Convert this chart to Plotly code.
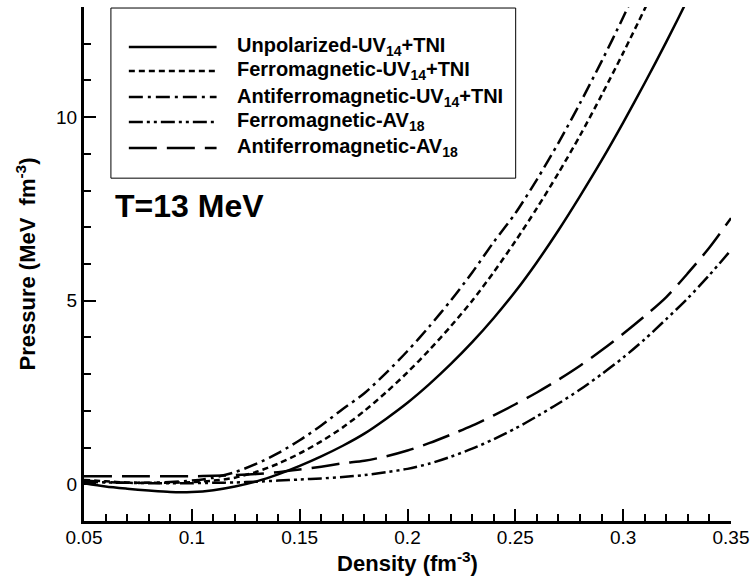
import plotly.graph_objects as go

density = [0.05, 0.06, 0.07, 0.08, 0.09, 0.10, 0.11, 0.12, 0.13, 0.14,
           0.15, 0.16, 0.17, 0.18, 0.19, 0.20, 0.21, 0.22, 0.23, 0.24,
           0.25, 0.26, 0.27, 0.28, 0.29, 0.30, 0.31, 0.32, 0.33, 0.34, 0.35]

unpol_uv14 = [0.03, -0.06, -0.12, -0.17, -0.21, -0.21, -0.16, -0.06, 0.08, 0.27,
              0.50, 0.76, 1.05, 1.38, 1.78, 2.22, 2.72, 3.27, 3.87, 4.53,
              5.25, 6.05, 6.92, 7.85, 8.82, 9.85, 10.93, 12.05, 13.22, 14.45]

ferro_uv14 = [0.12, 0.08, 0.05, 0.04, 0.04, 0.06, 0.10, 0.18, 0.34, 0.56,
              0.84, 1.17, 1.55, 2.00, 2.50, 3.05, 3.65, 4.30, 5.00, 5.78,
              6.62, 7.52, 8.48, 9.50, 10.60, 11.75, 12.95, 14.20]

antiferro_uv14 = [0.10, 0.06, 0.04, 0.04, 0.06, 0.10, 0.18, 0.33, 0.56, 0.85,
                  1.20, 1.60, 2.05, 2.48, 3.03, 3.63, 4.29, 5.00, 5.77, 6.60,
                  7.38, 8.30, 9.30, 10.38, 11.52, 12.72, 14.00]

ferro_av18 = [0.07, 0.05, 0.04, 0.03, 0.03, 0.03, 0.04, 0.05, 0.07, 0.10,
              0.13, 0.16, 0.20, 0.25, 0.33, 0.42, 0.56, 0.75, 0.97, 1.23,
              1.52, 1.85, 2.20, 2.58, 3.00, 3.45, 3.95, 4.50, 5.07, 5.70, 6.38]

antiferro_av18 = [0.22, 0.22, 0.22, 0.22, 0.22, 0.22, 0.23, 0.25, 0.28, 0.33,
                  0.40, 0.48, 0.57, 0.64, 0.76, 0.92, 1.12, 1.35, 1.60, 1.88,
                  2.18, 2.50, 2.85, 3.23, 3.65, 4.10, 4.58, 5.10, 5.75, 6.45, 7.25]

series_names = ["Unpolarized-UV<sub>14</sub>+TNI",
                "Ferromagnetic-UV<sub>14</sub>+TNI",
                "Antiferromagnetic-UV<sub>14</sub>+TNI",
                "Ferromagnetic-AV<sub>18</sub>",
                "Antiferromagnetic-AV<sub>18</sub>"]
series_values = [unpol_uv14, ferro_uv14, antiferro_uv14, ferro_av18, antiferro_av18]
series_dash = ["solid", "6px,4px", "14px,5px,3px,5px",
               "14px,4px,3px,4px,3px,4px", "28px,10px"]

x_tickvals = [0.05, 0.1, 0.15, 0.2, 0.25, 0.3, 0.35]
x_ticktext = ["0.05", "0.1", "0.15", "0.2", "0.25", "0.3", "0.35"]
x_minor_vals = [0.06, 0.07, 0.08, 0.09, 0.11, 0.12, 0.13, 0.14, 0.16, 0.17, 0.18, 0.19,
                0.21, 0.22, 0.23, 0.24, 0.26, 0.27, 0.28, 0.29, 0.31, 0.32, 0.33, 0.34]
y_tickvals = [0, 5, 10]
y_ticktext = ["0", "5", "10"]
y_minor_vals = [-1, 1, 2, 3, 4, 6, 7, 8, 9, 11, 12, 13]

FONT = "Liberation Sans, Arial, sans-serif"
LW = 2.5

fig = go.Figure()
for name, vals, dash in zip(series_names, series_values, series_dash):
    fig.add_trace(go.Scatter(
        x=density[:len(vals)], y=vals, mode="lines", name=name,
        line=dict(color="black", width=LW, dash=dash, shape="spline", smoothing=0.8),
        showlegend=False))

# Manual legend (box, sample lines, labels) in paper coordinates
box = dict(x0=0.0416, x1=0.6672, y0=0.667, y1=0.998)
fig.add_shape(type="rect", xref="paper", yref="paper", **box,
              line=dict(color="black", width=1), fillcolor="white", layer="above")
row_y = [0.9222, 0.8755, 0.8249, 0.7763, 0.7257]
for name, dash, ry in zip(series_names, series_dash, row_y):
    fig.add_shape(type="line", xref="paper", yref="paper",
                  x0=0.0693, x1=0.2049, y0=ry, y1=ry, layer="above",
                  line=dict(color="black", width=LW, dash=dash))
    fig.add_annotation(xref="paper", yref="paper", x=0.2327, y=ry,
                       xanchor="left", yanchor="middle", showarrow=False,
                       text="<b>" + name + "</b>",
                       font=dict(family=FONT, size=20, color="black"))

fig.add_annotation(xref="paper", yref="paper", x=0.045, y=0.612,
                   xanchor="left", yanchor="middle", showarrow=False,
                   text="<b>T=13 MeV</b>",
                   font=dict(family=FONT, size=32, color="black"))

axis_common = dict(showline=True, linecolor="black", linewidth=3,
                   ticks="inside", ticklen=12, tickwidth=2, tickcolor="black",
                   showgrid=False, zeroline=False, mirror=False,
                   tickfont=dict(family=FONT, size=19, color="black"))

fig.update_xaxes(range=[0.05, 0.35], tickvals=x_tickvals, ticktext=x_ticktext,
                 ticklabelstandoff=-3,
                 minor=dict(tickmode="array", tickvals=x_minor_vals, ticks="inside",
                            ticklen=7, tickwidth=2, tickcolor="black", showgrid=False),
                 title=dict(text="<b>Density (fm<sup>-3</sup>)</b>", standoff=6,
                            font=dict(family=FONT, size=22, color="black")),
                 **axis_common)
fig.update_yaxes(range=[-1, 13], tickvals=y_tickvals, ticktext=y_ticktext,
                 minor=dict(tickmode="array", tickvals=y_minor_vals, ticks="inside",
                            ticklen=7, tickwidth=2, tickcolor="black", showgrid=False),
                 title=dict(text="<b>Pressure (MeV  fm<sup>-3</sup>)</b>", standoff=15,
                            font=dict(family=FONT, size=22, color="black")),
                 **axis_common)

fig.update_layout(width=756, height=582,
                  margin=dict(l=84, r=23, t=7, b=61),
                  paper_bgcolor="white", plot_bgcolor="white",
                  font=dict(family=FONT, color="black"))

fig.write_html("out.html")
